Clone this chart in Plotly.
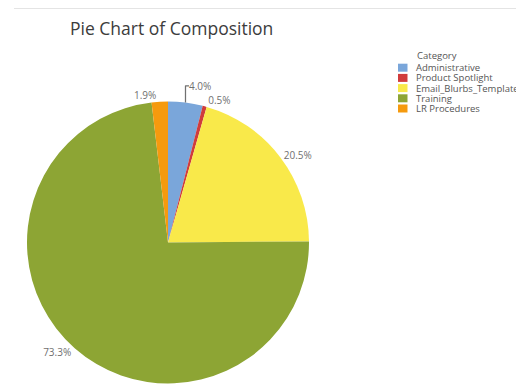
import plotly.graph_objects as go

categories = ["Administrative", "Product Spotlight", "Email_Blurbs_Template", "Training", "LR Procedures"]
values = [3.96, 0.46, 20.46, 73.26, 1.86]
colors = ["#7aa6da", "#d03c3c", "#f9e94a", "#8da534", "#f59a0e"]
legend_title = "Category"
chart_title = "Pie Chart of Composition"

# page body has an 8px margin; work in window pixels and convert
OFF = 8
W, H = 524 - OFF, 391 - OFF


def px(x):
    return (x - OFF) / W


def py(y):
    return 1 - (y - OFF) / H


cx, cy, r = 168, 242.5, 141

fig = go.Figure(go.Pie(
    labels=categories,
    values=values,
    sort=False,
    direction="clockwise",
    rotation=0,
    marker=dict(colors=colors, line=dict(width=0)),
    textposition="outside",
    texttemplate="%{percent:.1%}",
    textfont=dict(family="Open Sans", size=10, color="#707070"),
    showlegend=False,
    domain=dict(x=[px(cx - r), px(cx + r)], y=[py(cy + r), py(cy - r)]),
))

annotations = [dict(text=chart_title, x=px(68), y=py(28), xref="paper", yref="paper",
                    xanchor="left", yanchor="middle", showarrow=False,
                    font=dict(family="Open Sans", size=17.5, color="#3c3c3c"))]
annotations.append(dict(text=legend_title, x=px(415), y=py(55.5), xref="paper", yref="paper",
                        xanchor="left", yanchor="middle", showarrow=False,
                        font=dict(family="Open Sans", size=9.5, color="#555555")))
shapes = [dict(type="line", xref="paper", yref="paper", x0=px(14), x1=1,
               y0=py(8.5), y1=py(8.5), line=dict(color="#e4e4e4", width=1))]

row0, step = 67.7, 10.2
for i, (name, col) in enumerate(zip(categories, colors)):
    yc = row0 + i * step
    annotations.append(dict(text=name, x=px(414), y=py(yc), xref="paper", yref="paper",
                            xanchor="left", yanchor="middle", showarrow=False,
                            font=dict(family="Open Sans", size=9.5, color="#555555")))
    shapes.append(dict(type="rect", xref="paper", yref="paper",
                       x0=px(398), x1=px(407.5), y0=py(yc + 4), y1=py(yc - 4),
                       fillcolor=col, line=dict(width=0)))

fig.update_layout(
    width=W, height=H,
    margin=dict(l=0, r=0, t=0, b=0, autoexpand=False),
    paper_bgcolor="white",
    font=dict(family="Open Sans", color="#444444"),
    showlegend=False,
    annotations=annotations,
    shapes=shapes,
)

fig.write_html("out.html")
